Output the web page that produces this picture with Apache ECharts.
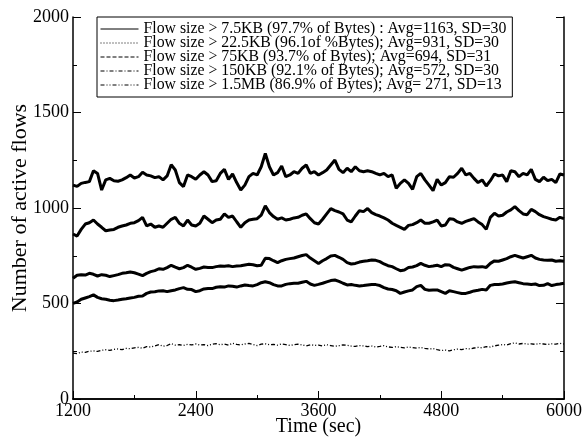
<!DOCTYPE html>
<html>
<head>
<meta charset="utf-8">
<script src="https://cdn.jsdelivr.net/npm/echarts@6/dist/echarts.min.js"></script>
<style>html,body{margin:0;padding:0;background:#fff}#c{width:586px;height:439px}</style>
</head>
<body>
<div id="c"></div>
<script>
// sample times (sec)
const time = [1200,1240,1280,1320,1360,1400,1440,1480,1520,1560,1600,1640,1680,1720,1760,1800,1840,1880,1920,1960,2000,2040,2080,2120,2160,2200,2240,2280,2320,2360,
2400,2440,2480,2520,2560,2600,2640,2680,2720,2760,2800,2840,2880,2920,2960,3000,3040,3080,3120,3160,3200,3240,3280,3320,3360,3400,3440,3480,3520,3560,
3600,3640,3680,3720,3760,3800,3840,3880,3920,3960,4000,4040,4080,4120,4160,4200,4240,4280,4320,4360,4400,4440,4480,4520,4560,4600,4640,4680,4720,
4760,4800,4840,4880,4920,4960,5000,5040,5080,5120,5160,5200,5240,5280,5320,5360,5400,5440,5480,5520,5560,5600,5640,5680,5720,5760,5800,5840,5880,5920,5960,6000];

const flow7_5KB = [1120,1113,1129,1134,1138,1195,1181,1094,1147,1155,1143,1140,1147,1159,1173,1157,1164,1187,1173,1168,1159,1164,1147,1168,1227,1199,1133,1112,1173,1164,
1150,1173,1190,1173,1138,1143,1181,1202,1150,1178,1133,1094,1120,1164,1181,1173,1216,1285,1216,1173,1185,1220,1164,1173,1190,1181,1208,1225,1181,1190,
1173,1185,1199,1225,1251,1202,1185,1208,1190,1216,1195,1190,1195,1190,1181,1173,1181,1164,1173,1103,1129,1147,1129,1098,1164,1181,1147,1120,1091,
1150,1120,1133,1164,1161,1181,1208,1173,1181,1155,1133,1147,1115,1143,1178,1168,1173,1138,1195,1190,1164,1181,1173,1202,1150,1138,1161,1143,1150,1133,1178,1173];

const flow22_5KB = [864,853,888,916,923,937,916,899,881,885,888,899,906,911,920,923,934,951,906,916,899,906,899,920,941,951,920,906,937,911,
906,920,958,941,923,937,941,969,951,958,928,899,923,937,941,944,963,1011,976,955,941,948,937,941,948,951,962,969,944,923,
916,941,969,997,986,979,969,937,927,958,986,981,997,976,965,958,948,937,920,909,899,888,909,913,923,937,920,920,927,
937,906,911,944,941,927,920,930,937,944,927,913,888,951,972,958,962,979,990,1007,986,969,965,993,981,965,955,948,941,937,951,944];

const flow75KB = [632,648,651,649,658,653,644,651,648,641,646,651,658,661,665,661,654,646,658,667,672,682,679,688,700,690,682,688,700,690,
679,684,691,689,688,693,696,695,698,693,696,698,702,705,703,698,700,737,735,724,714,724,731,735,738,745,751,756,738,724,
710,724,735,749,752,742,731,714,707,710,717,721,724,728,726,719,707,698,693,682,672,675,688,691,698,710,700,693,696,
700,693,703,702,689,682,675,682,689,693,691,693,689,710,723,721,728,735,745,752,745,738,745,752,738,731,728,726,728,721,724,721];

const flow150KB = [501,508,522,529,536,545,532,525,522,517,515,518,522,525,529,532,538,539,553,560,562,566,567,562,567,571,578,583,574,573,
562,567,576,579,578,585,588,586,592,590,586,592,597,594,592,599,609,614,609,599,592,592,600,604,606,606,611,616,602,595,
600,606,613,620,623,616,606,597,599,595,592,594,597,600,599,594,583,576,573,567,553,560,566,571,588,595,574,569,571,
571,562,553,567,562,557,552,553,559,566,569,574,571,595,599,600,602,607,611,614,609,604,602,600,602,594,595,604,594,599,602,606];

const flow1_5MB = [240,238,246,244,250,252,249,255,258,254,260,262,258,265,263,268,270,266,274,272,278,285,276,280,290,282,284,280,286,283,
288,282,285,280,286,290,284,288,282,292,286,283,288,291,285,280,287,289,284,286,282,288,285,280,284,287,283,278,284,281,
282,278,284,280,276,279,283,281,277,275,280,278,274,277,272,275,279,273,270,274,271,268,272,269,266,270,265,262,264,
258,254,256,252,258,261,259,264,262,267,270,268,274,272,278,282,285,283,290,294,288,291,287,289,286,290,288,285,289,287,291,288];

const seriesNames = [
  'Flow size > 7.5KB (97.7% of Bytes) : Avg=1163, SD=30',
  'Flow size > 22.5KB (96.1of %Bytes); Avg=931, SD=30',
  'Flow size > 75KB (93.7% of Bytes); Avg=694, SD=31',
  'Flow size > 150KB (92.1% of Bytes); Avg=572, SD=30',
  'Flow size > 1.5MB (86.9% of Bytes); Avg= 271, SD=13'
];
const xTicks = [1200, 2400, 3600, 4800, 6000];
const yTicks = [0, 500, 1000, 1500, 2000];

const allData = [flow7_5KB, flow22_5KB, flow75KB, flow150KB, flow1_5MB];
const legendDash = ['solid', [1, 2], [4, 2], [4, 2, 1, 2], [4, 2, 1, 2, 1, 2]];
const plotDash = ['solid', 'solid', 'solid', 'solid', [4, 2, 1, 2, 1, 2]];
const plotWidth = [3, 3, 3, 3, 1.3];

const FONT = 'Liberation Serif';
const chart = echarts.init(document.getElementById('c'), null, {renderer: 'canvas'});

const axisCommon = {
  type: 'value',
  axisLine: {show: true, onZero: false, lineStyle: {color: '#000', width: 1.5}},
  splitLine: {show: false},
  minorTick: {show: true, splitNumber: 2, length: 4, lineStyle: {color: '#000', width: 1}},
  axisTick: {show: true, inside: true, length: 8, lineStyle: {color: '#000', width: 1}},
  axisLabel: {color: '#000', fontFamily: FONT, fontSize: 18, formatter: v => String(v)}
};

chart.setOption({
  animation: false,
  backgroundColor: '#fff',
  grid: {left: 73, right: 22, top: 17, bottom: 40, containLabel: false, outerBoundsMode: 'none'},
  legend: {
    show: true,
    selectedMode: false,
    orient: 'vertical',
    left: 97, top: 17,
    padding: [4, 6, 4, 3],
    itemGap: -2,
    itemWidth: 38, itemHeight: 14,
    backgroundColor: '#fff',
    borderColor: '#000', borderWidth: 1, borderRadius: 0,
    textStyle: {color: '#000', fontFamily: FONT, fontSize: 15.8, lineHeight: 14},
    data: seriesNames.map((n, i) => ({
      name: n,
      lineStyle: {type: legendDash[i], width: 1, color: '#000'},
      itemStyle: {color: 'rgba(0,0,0,0)', borderWidth: 0, opacity: 0}
    }))
  },
  xAxis: [
    Object.assign({}, axisCommon, {
      min: xTicks[0], max: xTicks[xTicks.length - 1], interval: 1200, position: 'bottom',
      name: 'Time (sec)', nameLocation: 'middle', nameGap: 18, nameMoveOverlap: false,
      nameTextStyle: {color: '#000', fontFamily: FONT, fontSize: 20},
      axisLabel: {color: '#000', fontFamily: FONT, fontSize: 18, margin: 3, formatter: v => String(v)}
    }),
    {type: 'value', min: 1200, max: 6000, position: 'top', axisLine: {show: true, lineStyle: {color: '#000', width: 1.5}},
     axisTick: {show: false}, axisLabel: {show: false}, splitLine: {show: false}}
  ],
  yAxis: [
    Object.assign({}, axisCommon, {
      min: yTicks[0], max: yTicks[yTicks.length - 1], interval: 500, position: 'left',
      name: 'Number of active flows', nameLocation: 'middle', nameGap: 42, nameMoveOverlap: false,
      nameTextStyle: {color: '#000', fontFamily: FONT, fontSize: 22},
      axisLabel: {color: '#000', fontFamily: FONT, fontSize: 18, margin: 4, formatter: v => String(v)}
    }),
    Object.assign({}, axisCommon, {
      min: 0, max: 2000, interval: 500, position: 'right',
      axisLabel: {show: false}
    })
  ],
  series: allData.map((d, i) => ({
    name: seriesNames[i],
    type: 'line',
    xAxisIndex: 0, yAxisIndex: 0,
    data: time.map((t, j) => [t, d[j]]),
    symbol: 'none',
    lineStyle: {color: '#000', width: plotWidth[i], type: plotDash[i]},
    itemStyle: {color: '#000'}
  }))
});
</script>
</body>
</html>
